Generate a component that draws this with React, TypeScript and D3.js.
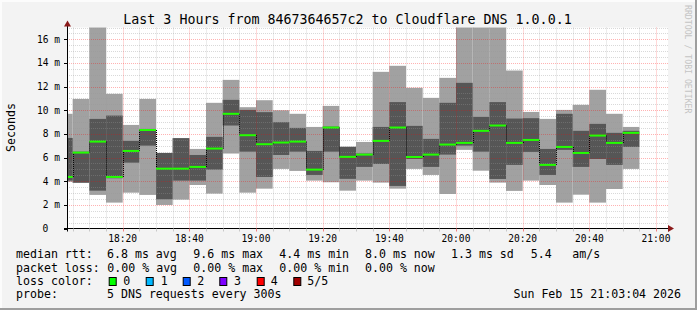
import React from "react";
import * as d3 from "d3";

const W = 697;
const H = 310;

// 5-minute steps starting 18:00, each value in ms (sorted pings p1..p5)
const pingMin = [3.95, 3.85, 2.84, 2.19, 3.03, 2.84, 1.99, 2.44, 3.68, 2.95, 6.34, 3.03, 3.37, 5.04, 4.87, 4.05, 3.91, 3.2, 4.05, 3.88, 3.37, 5.04, 4.53, 2.92, 6.65, 4.89, 3.88, 3.18, 4.05, 3.68, 2.19, 2.86, 2.19, 3.34, 5.04];
const pingLow = [4.05, 3.88, 3.2, 4.25, 5.57, 7.01, 2.47, 4.05, 4.05, 4.98, 8.71, 6.5, 4.36, 6.22, 6.5, 4.53, 6.5, 4.2, 5.21, 5.46, 3.6, 5.88, 5.21, 6.25, 7.01, 6.5, 4.19, 5.38, 6.48, 4.53, 6.65, 5.21, 5.88, 5.38, 6.9];
const pingMedian = [4.36, 6.42, 7.35, 4.36, 6.56, 8.33, 5.06, 5.06, 5.21, 6.76, 9.7, 7.89, 7.13, 7.27, 7.35, 4.98, 8.54, 6.06, 6.25, 7.41, 8.54, 6.05, 6.25, 7.1, 7.24, 8.26, 8.71, 7.24, 7.49, 5.38, 6.9, 6.39, 7.86, 7.24, 8.09];
const pingHigh = [7.66, 6.5, 9.27, 9.55, 7.41, 8.42, 6.39, 7.64, 6.22, 7.75, 10.88, 10.03, 9.84, 8.99, 8.51, 6.56, 8.62, 6.91, 6.34, 8.59, 10.69, 8.68, 7.58, 10.63, 12.32, 9.44, 10.69, 9.3, 9.33, 6.73, 9.7, 8.26, 8.85, 8.09, 8.26];
const pingMax = [9.7, 10.96, 17.5, 11.39, 8.76, 10.96, 6.39, 7.64, 6.73, 10.63, 12.57, 10.26, 10.85, 10.0, 9.7, 8.59, 10.37, 6.91, 7.32, 13.25, 13.76, 11.9, 11.05, 12.74, 18.0, 19.0, 18.5, 13.36, 9.86, 9.27, 10.03, 10.46, 11.73, 9.7, 8.59];

const yTicks = [0, 2, 4, 6, 8, 10, 12, 14, 16];
const xTickLabels = ["18:20", "18:40", "19:00", "19:20", "19:40", "20:00", "20:20", "20:40", "21:00"];

const legendRtt = [
  { text: "6.8 ms avg", x: 107 },
  { text: "9.6 ms max", x: 193.3 },
  { text: "4.4 ms min", x: 279.3 },
  { text: "8.0 ms now", x: 365 },
  { text: "1.3 ms sd", x: 451 },
  { text: "5.4", x: 530.7 },
  { text: "am/s", x: 572.3 },
];
const legendLoss = [
  { text: "0.00 % avg", x: 107.3 },
  { text: "0.00 % max", x: 193.3 },
  { text: "0.00 % min", x: 279.3 },
  { text: "0.00 % now", x: 365 },
];
const lossColors = [
  { label: "0", color: "#00ff00", bx: 108.7, tx: 123.3 },
  { label: "1", color: "#00b8ff", bx: 145.7, tx: 160.7 },
  { label: "2", color: "#0059ff", bx: 182.7, tx: 197.3 },
  { label: "3", color: "#7e00ff", bx: 219.3, tx: 234 },
  { label: "4", color: "#ff0000", bx: 256.7, tx: 270.7 },
  { label: "5/5", color: "#a00000", bx: 293.3, tx: 307.3 },
];

const MONO = "'DejaVu Sans Mono', monospace";

export default function App() {
  const base = new Date(2026, 1, 15, 18, 0, 0).getTime();
  const t = (min: number) => new Date(base + min * 60000);
  const left = 67;
  const right = 667;
  const top = 27.5;
  const bottom = 228.5;
  const x = d3.scaleTime().domain([t(3.3), t(183.3)]).range([left, right]);
  const y = d3.scaleLinear().domain([0, 17]).range([bottom, top]);

  const minorX: number[] = [];
  for (let m = 5; m <= 185; m += 5) {
    const px = x(t(m));
    if (px > left && px <= right + 1) minorX.push(m);
  }
  const minorY: number[] = [];
  for (let v = 0.5; v <= 17; v += 0.5) minorY.push(v);

  const bars = pingMedian.map((med, i) => {
    const x0 = Math.max(x(t(i * 5)), left);
    const x1 = x(t(i * 5 + 5));
    return { i, x0, x1, med };
  });

  const minorCol = "rgba(150,150,150,0.36)";
  const majorCol = "rgba(255,0,0,0.3)";

  return (
    <svg
      width={W}
      height={H}
      style={{ position: "fixed", left: 0, top: 0, display: "block" }}
      xmlns="http://www.w3.org/2000/svg"
    >
      <defs>
        <clipPath id="plotclip">
          <rect x={left} y={top} width={right - left + 1} height={bottom - top} />
        </clipPath>
      </defs>
      <rect x={0} y={0} width={W} height={H} fill="#f3f3f3" />
      <rect x={0} y={0} width={W} height={2} fill="#fcfcfc" />
      <rect x={0} y={0} width={2} height={H} fill="#fcfcfc" />
      <rect x={W - 2} y={0} width={2} height={H} fill="#9e9e9e" />
      <rect x={0} y={H - 2} width={W} height={2} fill="#9e9e9e" />

      <rect x={left} y={top} width={right - left + 1} height={bottom - top} fill="#ffffff" />

      <g clipPath="url(#plotclip)">
        {bars.map((b) => (
          <rect
            key={"l" + b.i}
            x={b.x0}
            width={b.x1 - b.x0}
            y={y(pingMax[b.i])}
            height={y(pingMin[b.i]) - y(pingMax[b.i])}
            fill="#a1a1a1"
          />
        ))}
        {bars.map((b) => (
          <rect
            key={"d" + b.i}
            x={b.x0}
            width={b.x1 - b.x0}
            y={y(pingHigh[b.i])}
            height={y(pingLow[b.i]) - y(pingHigh[b.i])}
            fill="#565656"
          />
        ))}
      </g>

      {/* grid on top */}
      <g>
        {minorY.map((v) => (
          <line
            key={"gy" + v}
            x1={left}
            x2={right + 1}
            y1={Math.round(y(v)) + 0.5}
            y2={Math.round(y(v)) + 0.5}
            stroke={v % 2 === 0 ? majorCol : minorCol}
            strokeDasharray="1,1"
          />
        ))}
        {minorX.map((m) => {
          const px = Math.round(x(t(m))) + 0.5;
          return (
            <line
              key={"gx" + m}
              x1={px}
              x2={px}
              y1={top}
              y2={bottom}
              stroke={m % 20 === 0 ? majorCol : minorCol}
              strokeDasharray="1,1"
            />
          );
        })}
      </g>

      {/* median line */}
      <g>
        {bars.map((b, k) =>
          k > 0 ? (
            <line
              key={"mv" + b.i}
              x1={Math.round(b.x0) + 0.5}
              x2={Math.round(b.x0) + 0.5}
              y1={y(bars[k - 1].med)}
              y2={y(b.med)}
              stroke="#000"
              strokeWidth={1}
              strokeDasharray="1,1"
            />
          ) : null
        )}
        {bars.map((b) => (
          <line
            key={"mh" + b.i}
            x1={b.x0}
            x2={b.x1}
            y1={y(b.med)}
            y2={y(b.med)}
            stroke="#22ff00"
            strokeWidth={2}
          />
        ))}
      </g>

      {/* axes */}
      <line x1={left - 3} x2={right + 1} y1={bottom} y2={bottom} stroke="#000" strokeWidth={1} />
      <line x1={left + 0.5} x2={left + 0.5} y1={bottom + 3} y2={top - 2} stroke="#000" strokeWidth={1} />
      <path d={`M${right + 1},${bottom - 3.5} L${right + 7},${bottom} L${right + 1},${bottom + 3.5} Z`} fill="#8b1a1a" />
      <path d={`M${left - 3},${top - 1} L${left + 0.5},${top - 7} L${left + 4},${top - 1} Z`} fill="#8b1a1a" />
      {yTicks.map((v) => (
        <line key={"yt" + v} x1={left - 3} x2={left} y1={Math.round(y(v)) + 0.5} y2={Math.round(y(v)) + 0.5} stroke="#000" />
      ))}
      {minorX.map((m) => {
        const px = Math.round(x(t(m))) + 0.5;
        return (
          <line
            key={"xt" + m}
            x1={px}
            x2={px}
            y1={bottom}
            y2={bottom + 3}
            stroke={m % 20 === 0 ? "#f08080" : "#c8c8c8"}
          />
        );
      })}

      {/* y labels */}
      <g fontFamily={MONO} fontSize={9.6} fill="#000">
        {yTicks.map((v) => (
          <text key={"yl" + v} x={v === 0 ? 48.4 : 60} y={y(v) + 3.5} textAnchor="end">
            {v === 0 ? "0" : `${v} m`}
          </text>
        ))}
        {xTickLabels.map((lab, k) => (
          <text key={"xl" + lab} x={x(t(20 + k * 20))} y={241.5} textAnchor="middle">
            {lab}
          </text>
        ))}
      </g>

      <text
        x={10.5}
        y={127.5}
        fontFamily={MONO}
        fontSize={11.6}
        textAnchor="middle"
        transform="rotate(-90 10.5 127.5)"
        dominantBaseline="central"
      >
        Seconds
      </text>

      <text x={347.5} y={24} fontFamily={MONO} fontSize={13.3} textAnchor="middle" fill="#000">
        Last 3 Hours from 8467364657c2 to Cloudflare DNS 1.0.0.1
      </text>

      <text
        x={687.5}
        y={5}
        fontFamily={MONO}
        fontSize={8.2}
        fill="#c4c4c4"
        transform="rotate(90 687.5 5)"
        dominantBaseline="central"
      >
        RRDTOOL / TOBI OETIKER
      </text>

      {/* legend */}
      <g fontFamily={MONO} fontSize={11.6} fill="#000">
        <text x={16} y={258.3}>median rtt:</text>
        {legendRtt.map((l) => (
          <text key={l.text} x={l.x} y={258.3}>{l.text}</text>
        ))}
        <text x={16} y={271.6}>packet loss:</text>
        {legendLoss.map((l) => (
          <text key={l.text} x={l.x} y={271.6}>{l.text}</text>
        ))}
        <text x={16} y={285}>loss color:</text>
        {lossColors.map((c) => (
          <g key={c.label}>
            <rect x={c.bx + 0.5} y={277.5} width={7} height={8} fill={c.color} stroke="#000" strokeWidth={1} />
            <text x={c.tx} y={285}>{c.label}</text>
          </g>
        ))}
        <text x={16} y={298.3}>probe:</text>
        <text x={107} y={298.3}>5 DNS requests every 300s</text>
        <text x={681} y={298.3} textAnchor="end">Sun Feb 15 21:03:04 2026</text>
      </g>
    </svg>
  );
}
